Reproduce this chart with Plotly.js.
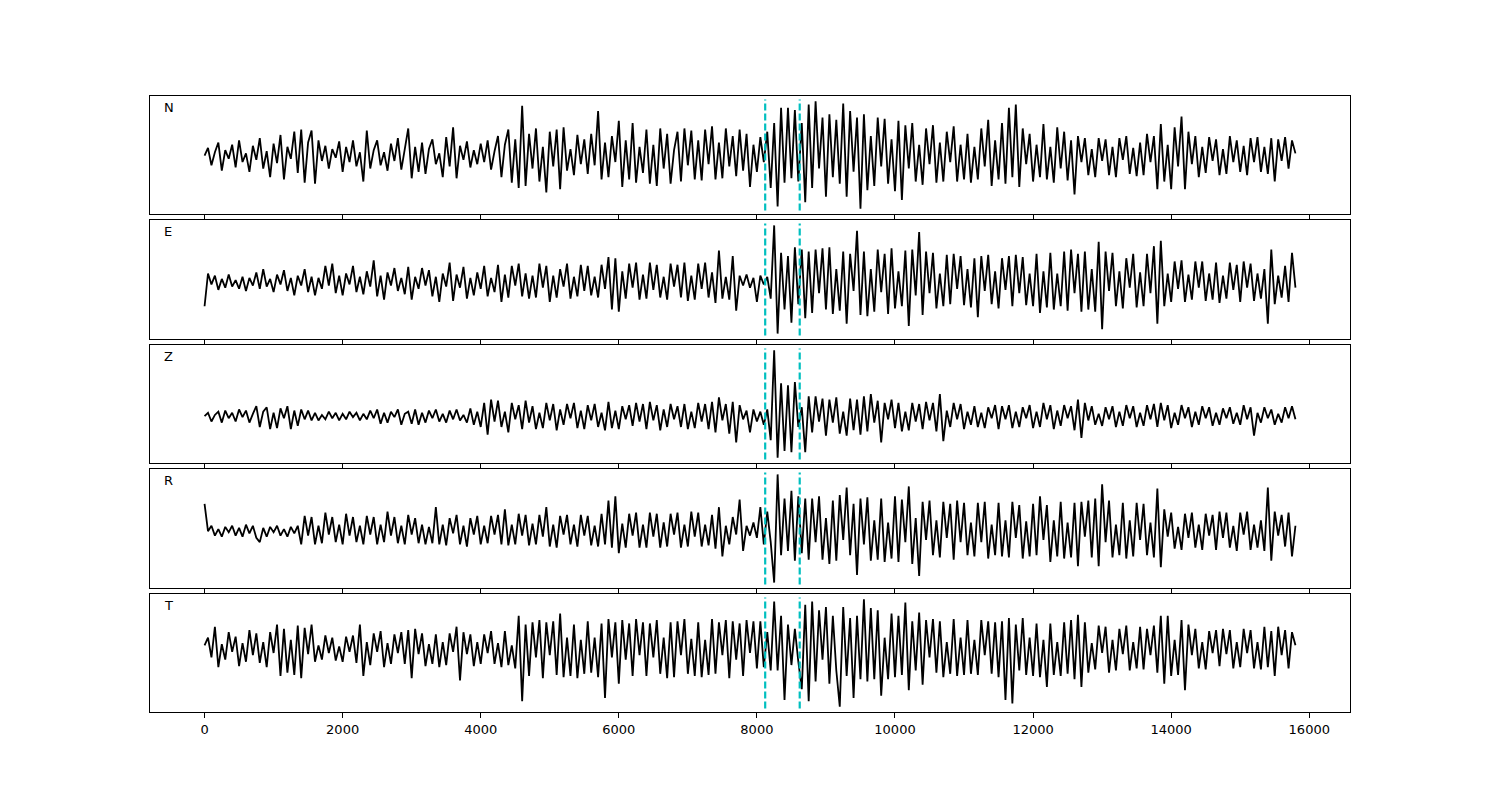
<!DOCTYPE html>
<html>
<head>
<meta charset="utf-8">
<script src="https://cdn.plot.ly/plotly-3.0.1.min.js"></script>
<style>
  html, body { margin: 0; padding: 0; background: #ffffff; }
  #chart { width: 1500px; height: 800px; }
</style>
</head>
<body>
<div id="chart"></div>
<script>
// Component labels (top to bottom)
const componentNames = ['N', 'E', 'Z', 'R', 'T'];

// Sample axis span of each trace (samples)
const sampleStart = 0;
const sampleEnd = 15800;

// Waveform amplitudes (relative units, evenly spaced samples)
const ampN = [
  0, 7, -9, 3, 12, -14, 5, -3, 10, -11, 14, -6, 2, -15, 9, -4,
  16, -12, 4, -20, 11, -7, 19, -22, 8, -3, 22, -16, 24, -25, 12, 23,
  -26, 14, -5, 9, -12, 6, -2, 13, -15, 8, -6, 14, -10, 3, -24, 23,
  -12, 5, 14, -9, 3, -14, 11, -5, 16, -13, 6, 25, -21, 8, -15, 12,
  -17, 6, 15, -8, 2, -20, 17, -10, 26, -21, 9, -4, 13, -11, 5, -8,
  11, -6, 14, -13, 4, 18, -20, 10, 24, -25, 15, -30, 46, -28, 20, -12,
  25, -24, 8, -34, 22, -10, 24, -31, 26, -14, 6, -18, 19, -8, 15, -17,
  20, -9, 41, -22, 12, -20, 18, -6, 32, -29, 14, -22, 30, -25, 8, -16,
  24, -26, 10, -28, 25, -12, 20, -26, 5, 22, -24, 25, -9, 23, -22, 14,
  -23, 24, -8, 27, -22, 12, -21, 25, -10, 18, -19, 24, -14, 20, -29, 10,
  -15, 17, -6, 22, -30, 30, -47, 44, -25, 44, -21, 42, -24, 30, -43, 47,
  -30, 50, -12, 35, -38, 38, -20, 33, -26, 48, -38, 41, -15, 35, -49, 38,
  -32, 18, -28, 35, -10, 34, -26, 15, -33, 32, -41, 28, -12, 30, -24, 10,
  -27, 25, -8, 28, -25, 12, -24, 22, -6, 27, -24, 10, -22, 20, -25, 8,
  -22, 25, -10, 33, -28, 14, -22, 30, -26, 44, -20, 47, -29, 25, -8, 20,
  -24, 10, -20, 29, -22, 8, -25, 26, -12, 22, -23, 14, -36, 18, -6, 16,
  -18, 6, -20, 16, -5, 15, -18, 8, -20, 16, -4, 18, -17, 7, -19, 12,
  -18, 20, -6, 18, -31, 29, -24, 10, -31, 26, -10, 36, -31, 22, -8, 18,
  -20, 8, -16, 17, -5, 15, -18, 6, -17, 18, -6, 14, -15, 9, -18, 16,
  -6, 17, -15, 8, -17, 16, -24, 15, -5, 17, -12, 14, 2
];

const ampE = [
  -22, 8, -2, 6, -7, 3, -5, 7, -4, 2, -6, 5, -8, 4, -3, 9,
  -6, 12, -4, 3, -9, 7, -2, 11, -8, 4, -12, 6, -3, 12, -9, 5,
  -12, 4, -6, 15, -3, 17, -10, 6, -12, 8, -2, 15, -9, 5, -11, 10,
  -4, 20, -13, 6, -16, 9, -3, 13, -8, 4, -11, 14, -16, 5, -6, 13,
  -3, 11, -13, 5, -18, 8, -4, 18, -17, 7, -5, 14, -15, 4, -12, 9,
  -6, 15, -13, 4, -9, 16, -18, 7, -14, 15, -3, 17, -13, 8, -15, 6,
  -14, 17, -5, 15, -18, 6, -14, 12, -4, 17, -15, 5, -13, 16, -8, 15,
  -12, 5, -14, 16, -6, 23, -25, 22, -27, 10, -15, 17, -5, 18, -16, 7,
  -15, 18, -7, 16, -14, 5, -16, 17, -4, 16, -14, 18, -17, 6, -16, 17,
  -6, 18, -14, 9, -19, 29, -15, 5, -16, 24, -26, 6, -3, 7, -5, 4,
  -18, 6, -2, 5, -15, 52, -47, 27, -25, 24, -37, 32, -20, 30, -33, 28,
  -28, 30, -10, 31, -25, 32, -29, 12, -26, 28, -38, 26, -8, 47, -30, 28,
  -31, 12, -27, 30, -9, 26, -29, 31, -24, 10, -22, 29, -40, 30, -12, 46,
  -30, 28, -10, 27, -24, 8, -22, 25, -20, 26, -6, 24, -21, 12, -23, 22,
  -32, 24, -8, 25, -20, 10, -24, 22, -7, 24, -22, 25, -10, 23, -21, 8,
  -22, 26, -28, 10, -23, 27, -25, 8, -22, 28, -26, 30, -10, 26, -27, 28,
  -25, 12, -27, 37, -43, 28, -8, 27, -22, 10, -24, 22, -5, 26, -23, 9,
  -22, 26, -10, 33, -38, 38, -22, 8, -18, 19, -6, 20, -18, 7, -16, 19,
  -5, 19, -17, 8, -16, 18, -19, 6, -15, 18, -7, 16, -18, 19, -5, 17,
  -17, 8, -15, 12, -38, 30, -20, 6, -14, 15, -18, 27, -5
];

const ampZ = [
  0, 3, -5, 1, 4, -6, 5, -2, 3, -5, 6, -1, 5, -6, 2, 9,
  -10, 4, 8, -12, 3, -11, 7, -2, 9, -12, 5, -9, 6, -3, 5, -4,
  3, -4, 1, -3, 4, -2, 3, -4, 2, -3, 4, -1, 3, -4, 2, -3,
  5, -2, 6, -7, 3, -6, 4, -1, 6, -8, 2, 4, -7, 6, -8, 3,
  -6, 5, -2, 6, -5, 2, -6, 5, -3, 6, -4, 1, -6, 7, -8, 4,
  -10, 12, -17, 15, -5, 14, -10, 4, -15, 12, -3, 10, -12, 14, -6, 9,
  -12, 3, -11, 12, -4, 11, -13, 6, -8, 11, -2, 12, -11, 5, -12, 10,
  -4, 11, -10, 3, -13, 13, -11, 5, -12, 9, -3, 10, -9, 12, -5, 11,
  -12, 13, -4, 10, -13, 6, -10, 11, -3, 9, -10, 11, -12, 4, -11, 12,
  -5, 11, -12, 13, -15, 17, -4, 11, -16, 13, -24, 10, -3, 5, -15, 6,
  -5, 4, -8, 6, -22, 60, -38, 30, -32, 28, -33, 31, -10, 8, -33, 18,
  -15, 18, -5, 16, -18, 15, -6, 17, -16, 4, -18, 16, -13, 15, -17, 18,
  -14, 20, -6, 14, -24, 12, -3, 15, -11, 12, -14, 4, -13, 12, -5, 11,
  -12, 13, -4, 12, -14, 20, -23, 5, -10, 12, -3, 11, -12, 4, -8, 9,
  -10, 3, -11, 8, -2, 10, -12, 9, -3, 10, -11, 4, -10, 8, -2, 10,
  -11, 4, -10, 12, -3, 10, -12, 5, -9, 10, -2, 9, -13, 15, -20, 12,
  -4, 9, -8, 2, -9, 8, -3, 9, -10, 4, -9, 10, -2, 9, -10, 3,
  -9, 10, -3, 11, -10, 12, -4, 10, -11, 3, -8, 10, -2, 8, -10, 4,
  -8, 9, -2, 8, -9, 3, -8, 7, -2, 8, -7, 3, -8, 10, -3, 8,
  -18, 3, -6, 8, -2, 6, -8, 2, -6, 8, -2, 9, -3
];

const ampR = [
  25, 0, 5, -4, 2, -5, 4, -1, 5, -4, 3, -5, 6, -2, 5, -6,
  -10, 3, -5, 4, -1, 5, -4, 2, -5, 4, -2, 5, -12, 14, -4, 13,
  -12, 5, -11, 17, -3, 13, -10, 6, -12, 16, -4, 13, -10, 5, -12, 14,
  -3, 13, -12, 6, -10, 18, -4, 13, -11, 5, -12, 15, -3, 12, -11, 6,
  -12, 4, -11, 22, -12, 6, -13, 12, -2, 15, -12, 5, -14, 12, -3, 14,
  -12, 5, -11, 14, -3, 15, -12, 20, -13, 6, -12, 16, -4, 15, -13, 7,
  -12, 15, -5, 22, -14, 6, -15, 14, -3, 15, -12, 6, -14, 15, -4, 14,
  -13, 5, -14, 16, -12, 28, -15, 32, -20, 7, -15, 16, -4, 17, -15, 6,
  -15, 17, -5, 16, -15, 8, -14, 16, -3, 17, -15, 6, -14, 18, -5, 17,
  -14, 6, -13, 15, -16, 22, -23, 5, -12, 13, -3, 29, -18, 5, -4, 8,
  -6, 22, -12, 18, -10, -47, 52, -22, 30, -18, 37, -27, 32, -20, 30, -26,
  30, -10, 32, -26, 12, -30, 28, -27, 33, -8, 40, -22, 25, -40, 30, -12,
  31, -27, 10, -26, 30, -28, 8, -25, 32, -28, 29, -10, 41, -30, 12, -41,
  27, -8, 28, -22, 10, -24, 27, -6, 25, -26, 28, -10, 26, -22, 8, -23,
  26, -10, 27, -25, 6, -22, 26, -23, 10, -24, 27, -6, 24, -25, 9, -23,
  25, -22, 32, -8, 24, -28, 10, -23, 27, -25, 8, -24, 26, -32, 27, -5,
  28, -24, 30, -32, 43, -10, 28, -24, 6, -22, 26, -25, 10, -23, 26, -8,
  25, -22, 8, -24, 39, -33, 20, -5, 17, -16, 4, -17, 16, -6, 17, -15,
  6, -17, 16, -4, 15, -17, 18, -6, 17, -15, 5, -18, 17, -3, 18, -17,
  6, -15, 10, -18, 40, -27, 18, -4, 15, -14, 17, -23, 5
];

const ampT = [
  3, 10, -8, 20, -17, 4, -10, 15, -3, 11, -16, 5, -12, 17, -6, 14,
  -13, 6, -17, 15, -4, 22, -25, 18, -22, 8, -24, 21, -27, 19, -5, 22,
  -12, 3, -10, 12, -4, 10, -11, 2, -12, 11, -3, 12, -13, 22, -25, 6,
  -15, 14, -3, 16, -17, 5, -14, 13, -4, 15, -14, 17, -27, 18, -5, 14,
  -16, 4, -14, 13, -17, 6, -15, 14, -3, 20, -29, 15, -5, 13, -16, 6,
  -14, 13, -4, 16, -14, 5, -17, 16, -15, 3, -18, 30, -48, 22, -25, 24,
  -8, 26, -27, 24, -6, 25, -24, 32, -26, 10, -25, 22, -27, 8, -23, 25,
  -22, 10, -26, 23, -45, 27, -8, 24, -32, 26, -10, 23, -25, 27, -6, 24,
  -25, 23, -8, 26, -23, 10, -27, 24, -26, 25, -6, 27, -23, 9, -25, 24,
  -26, 8, -24, 27, -23, 24, -6, 26, -27, 25, -10, 23, -25, 26, -4, 25,
  -18, 25, -17, 15, -20, 43, -20, 30, -47, 22, -15, 18, -12, -37, 40, -48,
  43, -30, 35, -10, 38, -32, 30, -20, -53, 38, -25, 28, -45, 30, -28, 45,
  -30, 37, -28, 35, -43, 10, -28, 32, -26, 30, -24, 42, -38, 25, -20, 33,
  -33, 26, -8, 27, -22, 25, -26, 6, -23, 27, -25, 10, -24, 26, -23, 8,
  -24, 26, -6, 25, -23, 24, -26, 25, -47, 28, -50, 22, -20, 28, -24, 10,
  -25, 23, -26, 8, -35, 23, -24, 6, -25, 24, -23, 26, -28, 31, -35, 24,
  -22, 5, -19, 21, -4, 20, -22, 8, -20, 18, -5, 21, -20, 6, -18, 20,
  -19, 18, -6, 21, -22, 30, -32, 30, -25, 8, -24, 26, -38, 22, -6, 18,
  -18, 6, -19, 16, -4, 17, -16, 18, -5, 17, -18, 6, -17, 18, -4, 17,
  -18, 6, -19, 20, -17, 16, -25, 20, -6, 17, -18, 15, 3
];

// Picked phase markers (sample positions)
const pickSamples = [8120, 8620];

// X tick values / labels
const xTickVals = [0, 2000, 4000, 6000, 8000, 10000, 12000, 14000, 16000];
const xTickText = ['0', '2000', '4000', '6000', '8000', '10000', '12000', '14000', '16000'];

const allAmps = [ampN, ampE, ampZ, ampR, ampT];

// ---- layout geometry (pixels in a 1500x800 figure) ----
const W = 1500, H = 800;
const panelLeft = 150, panelRight = 1350;
const panelTops = [96, 220, 345, 469, 594];
const panelBottoms = [214, 339, 463, 588, 712];
const xRange = [-790, 16590];

const traces = [];
const layout = {
  width: W, height: H,
  margin: {l: 0, r: 0, t: 0, b: 0},
  paper_bgcolor: '#ffffff',
  plot_bgcolor: '#ffffff',
  showlegend: false,
  font: {family: 'DejaVu Sans, sans-serif', size: 13, color: '#000000'},
  shapes: [],
  annotations: []
};

allAmps.forEach((amps, k) => {
  const n = amps.length;
  const step = (sampleEnd - sampleStart) / (n - 1);
  const xs = amps.map((_, i) => sampleStart + i * step);
  const suffix = k === 0 ? '' : String(k + 1);
  traces.push({
    type: 'scatter', mode: 'lines',
    x: xs, y: amps,
    xaxis: 'x' + suffix, yaxis: 'y' + suffix,
    line: {color: '#000000', width: 1.8},
    hoverinfo: 'skip'
  });

  const mn = Math.min(...amps), mx = Math.max(...amps);
  const pad = (mx - mn) * 0.05;
  const yDom = [1 - panelBottoms[k] / H, 1 - panelTops[k] / H];
  const isBottom = k === allAmps.length - 1;

  layout['xaxis' + suffix] = {
    domain: [panelLeft / W, panelRight / W],
    anchor: 'y' + suffix,
    range: xRange,
    showgrid: false, zeroline: false,
    showline: true, linecolor: '#000000', linewidth: 1, mirror: true,
    ticks: 'outside', ticklen: 5, tickwidth: 1, tickcolor: '#000000',
    tickmode: 'array', tickvals: xTickVals, ticktext: xTickText,
    showticklabels: isBottom,
    tickfont: {family: 'DejaVu Sans, sans-serif', size: 13, color: '#000000'},
    matches: k === 0 ? undefined : 'x'
  };
  layout['yaxis' + suffix] = {
    domain: yDom,
    anchor: 'x' + suffix,
    range: [mn - pad, mx + pad],
    showgrid: false, zeroline: false,
    showline: true, linecolor: '#000000', linewidth: 1, mirror: true,
    ticks: '', showticklabels: false
  };

  pickSamples.forEach(p => {
    layout.shapes.push({
      type: 'line', xref: 'x' + suffix, yref: 'y' + suffix + ' domain',
      x0: p, x1: p, y0: 0.03, y1: 0.97,
      line: {color: '#00bfbf', width: 2.2, dash: '7px,3px'}
    });
  });

  layout.annotations.push({
    xref: 'x' + suffix + ' domain', yref: 'y' + suffix + ' domain',
    x: 0.01, y: 0.9, xanchor: 'left', yanchor: 'middle',
    text: componentNames[k], showarrow: false,
    font: {family: 'DejaVu Sans, sans-serif', size: 13, color: '#000000'}
  });
});

Plotly.newPlot('chart', traces, layout, {displayModeBar: false, staticPlot: true});
</script>
</body>
</html>
